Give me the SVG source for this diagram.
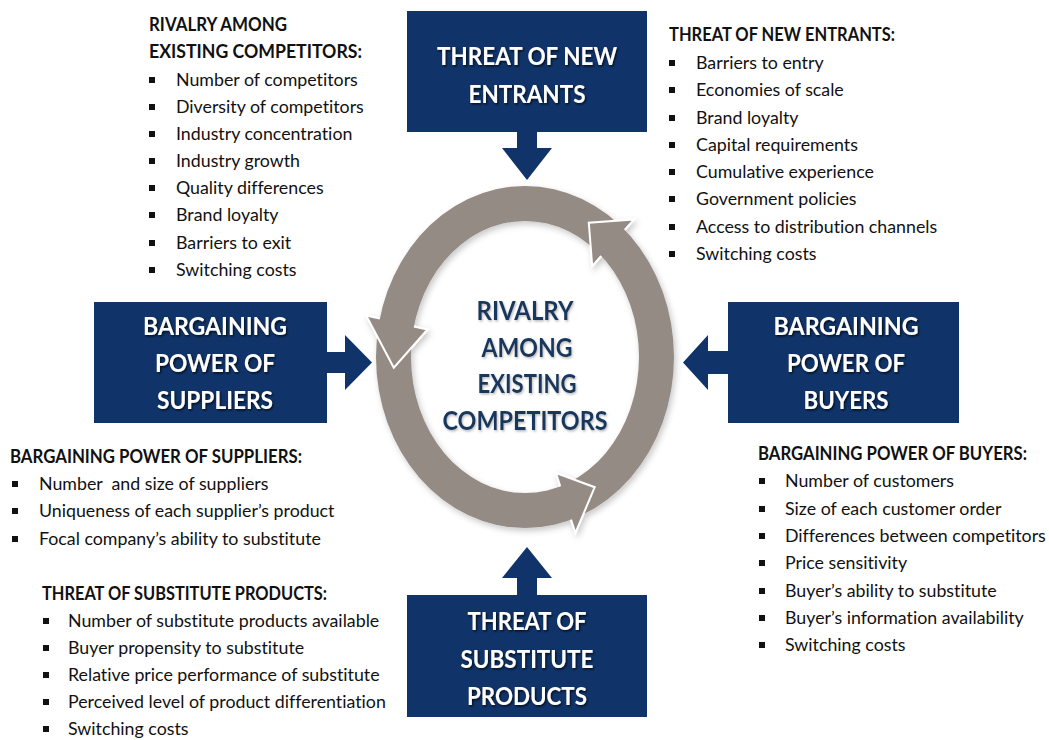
<svg xmlns="http://www.w3.org/2000/svg" width="1049" height="740" viewBox="0 0 1049 740">
<defs>
<filter id="ts" x="-10%" y="-30%" width="120%" height="160%"><feDropShadow dx="1.2" dy="1.5" stdDeviation="0.9" flood-color="#000" flood-opacity="0.75"/></filter>
<filter id="cs" x="-10%" y="-30%" width="120%" height="160%"><feDropShadow dx="1" dy="1.5" stdDeviation="1" flood-color="#8a8a8a" flood-opacity="0.6"/></filter>
<filter id="rs" x="-10%" y="-10%" width="125%" height="125%"><feDropShadow dx="2" dy="3" stdDeviation="3" flood-color="#000" flood-opacity="0.22"/></filter>
<style>
text{font-family:Lato,"Open Sans","Liberation Sans",sans-serif;font-variant-ligatures:none;font-feature-settings:"liga" 0,"clig" 0}
.box{fill:#10346a}
.arr{fill:#10346a}
.bt{font-weight:700;font-size:25px;fill:#fff;text-anchor:middle;filter:url(#ts)}
.ct{font-weight:700;font-size:26px;fill:#17375e;text-anchor:middle;filter:url(#cs)}
.h{font-weight:700;font-size:18px;fill:#111}
.li{font-size:17.8px;fill:#111}
.b{fill:#111}
.ring{fill:#958b85;fill-rule:evenodd}
.head{fill:#958b85;stroke:#fff;stroke-width:2;stroke-linejoin:miter}
</style>
</defs>
<rect width="1049" height="740" fill="#fff"/>

<g id="connectors">
<polygon class="arr" points="517,131 537,131 537,148 552,148 527,180 502,148 517,148"/>
<polygon class="arr" points="326,352 345,352 345,335 372,362.5 345,390 345,373 326,373"/>
<polygon class="arr" points="729,351 708,351 708,335 683,362.5 708,390 708,374 729,374"/>
<polygon class="arr" points="517,596 537,596 537,578 552,578 527,547 502,578 517,578"/>
</g>

<g id="rivalry-cycle" filter="url(#rs)">
<path class="ring" d="M376 357A149 171 0 1 0 674 357A149 171 0 1 0 376 357ZM411 357A114 136 0 1 0 639 357A114 136 0 1 0 411 357Z"/>
<path class="head" d="M624.7 229.9L634.0 219.5L588.8 222.7L592.2 266.1L601.2 256.0"/>
<path class="head" d="M379.8 318.5L366.2 315.4L393.8 367.7L427.5 329.5L413.9 326.4"/>
<path class="head" d="M571.0 519.6L575.4 532.9L594.7 487.2L556.0 473.0L560.2 486.4"/>
</g>

<g id="center-label">
<text class="ct" x="525" y="320" textLength="97" lengthAdjust="spacingAndGlyphs">RIVALRY</text>
<text class="ct" x="527" y="357" textLength="91" lengthAdjust="spacingAndGlyphs">AMONG</text>
<text class="ct" x="527" y="393" textLength="99" lengthAdjust="spacingAndGlyphs">EXISTING</text>
<text class="ct" x="525" y="430" textLength="165" lengthAdjust="spacingAndGlyphs">COMPETITORS</text>
</g>

<g id="node-new-entrants">
<rect class="box" x="407" y="11" width="240" height="121"/>
<text class="bt" x="527" y="65" textLength="180" lengthAdjust="spacingAndGlyphs">THREAT OF NEW</text>
<text class="bt" x="527" y="103" textLength="117" lengthAdjust="spacingAndGlyphs">ENTRANTS</text>
</g>

<g id="node-suppliers">
<rect class="box" x="94" y="302" width="233" height="121"/>
<text class="bt" x="215" y="335" textLength="144" lengthAdjust="spacingAndGlyphs">BARGAINING</text>
<text class="bt" x="215" y="372" textLength="120" lengthAdjust="spacingAndGlyphs">POWER OF</text>
<text class="bt" x="215" y="409" textLength="116" lengthAdjust="spacingAndGlyphs">SUPPLIERS</text>
</g>

<g id="node-buyers">
<rect class="box" x="728" y="302" width="231" height="121"/>
<text class="bt" x="846" y="335" textLength="145" lengthAdjust="spacingAndGlyphs">BARGAINING</text>
<text class="bt" x="846" y="372" textLength="118" lengthAdjust="spacingAndGlyphs">POWER OF</text>
<text class="bt" x="846" y="409" textLength="85" lengthAdjust="spacingAndGlyphs">BUYERS</text>
</g>

<g id="node-substitutes">
<rect class="box" x="407" y="595" width="240" height="122"/>
<text class="bt" x="527" y="630" textLength="119" lengthAdjust="spacingAndGlyphs">THREAT OF</text>
<text class="bt" x="527" y="668" textLength="133" lengthAdjust="spacingAndGlyphs">SUBSTITUTE</text>
<text class="bt" x="527" y="705" textLength="120" lengthAdjust="spacingAndGlyphs">PRODUCTS</text>
</g>

<g id="list-rivalry">
<text class="h" x="149" y="31" textLength="138" lengthAdjust="spacingAndGlyphs">RIVALRY AMONG</text>
<text class="h" x="149" y="58" textLength="213" lengthAdjust="spacingAndGlyphs">EXISTING COMPETITORS:</text>
<rect class="b" x="149" y="77" width="6" height="6"/><text class="li" x="176" y="86">Number of competitors</text>
<rect class="b" x="149" y="104" width="6" height="6"/><text class="li" x="176" y="113">Diversity of competitors</text>
<rect class="b" x="149" y="131" width="6" height="6"/><text class="li" x="176" y="140">Industry concentration</text>
<rect class="b" x="149" y="158" width="6" height="6"/><text class="li" x="176" y="167">Industry growth</text>
<rect class="b" x="149" y="185" width="6" height="6"/><text class="li" x="176" y="194">Quality differences</text>
<rect class="b" x="149" y="212" width="6" height="6"/><text class="li" x="176" y="221">Brand loyalty</text>
<rect class="b" x="149" y="240" width="6" height="6"/><text class="li" x="176" y="249">Barriers to exit</text>
<rect class="b" x="149" y="267" width="6" height="6"/><text class="li" x="176" y="276">Switching costs</text>
</g>

<g id="list-new-entrants">
<text class="h" x="669" y="41" textLength="226" lengthAdjust="spacingAndGlyphs">THREAT OF NEW ENTRANTS:</text>
<rect class="b" x="669" y="60" width="6" height="6"/><text class="li" x="696" y="69">Barriers to entry</text>
<rect class="b" x="669" y="87" width="6" height="6"/><text class="li" x="696" y="96">Economies of scale</text>
<rect class="b" x="669" y="115" width="6" height="6"/><text class="li" x="696" y="124">Brand loyalty</text>
<rect class="b" x="669" y="142" width="6" height="6"/><text class="li" x="696" y="151">Capital requirements</text>
<rect class="b" x="669" y="169" width="6" height="6"/><text class="li" x="696" y="178">Cumulative experience</text>
<rect class="b" x="669" y="196" width="6" height="6"/><text class="li" x="696" y="205">Government policies</text>
<rect class="b" x="669" y="224" width="6" height="6"/><text class="li" x="696" y="233">Access to distribution channels</text>
<rect class="b" x="669" y="251" width="6" height="6"/><text class="li" x="696" y="260">Switching costs</text>
</g>

<g id="list-suppliers">
<text class="h" x="10" y="463" textLength="292" lengthAdjust="spacingAndGlyphs">BARGAINING POWER OF SUPPLIERS:</text>
<rect class="b" x="12" y="481" width="6" height="6"/><text class="li" x="39" y="490" xml:space="preserve">Number  and size of suppliers</text>
<rect class="b" x="12" y="508" width="6" height="6"/><text class="li" x="39" y="517">Uniqueness of each supplier’s product</text>
<rect class="b" x="12" y="536" width="6" height="6"/><text class="li" x="39" y="545">Focal company’s ability to substitute</text>
</g>

<g id="list-substitutes">
<text class="h" x="42" y="600" textLength="285" lengthAdjust="spacingAndGlyphs">THREAT OF SUBSTITUTE PRODUCTS:</text>
<rect class="b" x="43" y="618" width="6" height="6"/><text class="li" x="68" y="627">Number of substitute products available</text>
<rect class="b" x="43" y="645" width="6" height="6"/><text class="li" x="68" y="654">Buyer propensity to substitute</text>
<rect class="b" x="43" y="672" width="6" height="6"/><text class="li" x="68" y="681">Relative price performance of substitute</text>
<rect class="b" x="43" y="699" width="6" height="6"/><text class="li" x="68" y="708">Perceived level of product differentiation</text>
<rect class="b" x="43" y="726" width="6" height="6"/><text class="li" x="68" y="735">Switching costs</text>
</g>

<g id="list-buyers">
<text class="h" x="758" y="460" textLength="269" lengthAdjust="spacingAndGlyphs">BARGAINING POWER OF BUYERS:</text>
<rect class="b" x="759" y="478" width="6" height="6"/><text class="li" x="785" y="487">Number of customers</text>
<rect class="b" x="759" y="506" width="6" height="6"/><text class="li" x="785" y="515">Size of each customer order</text>
<rect class="b" x="759" y="533" width="6" height="6"/><text class="li" x="785" y="542">Differences between competitors</text>
<rect class="b" x="759" y="560" width="6" height="6"/><text class="li" x="785" y="569">Price sensitivity</text>
<rect class="b" x="759" y="588" width="6" height="6"/><text class="li" x="785" y="597">Buyer’s ability to substitute</text>
<rect class="b" x="759" y="615" width="6" height="6"/><text class="li" x="785" y="624">Buyer’s information availability</text>
<rect class="b" x="759" y="642" width="6" height="6"/><text class="li" x="785" y="651">Switching costs</text>
</g>
</svg>
